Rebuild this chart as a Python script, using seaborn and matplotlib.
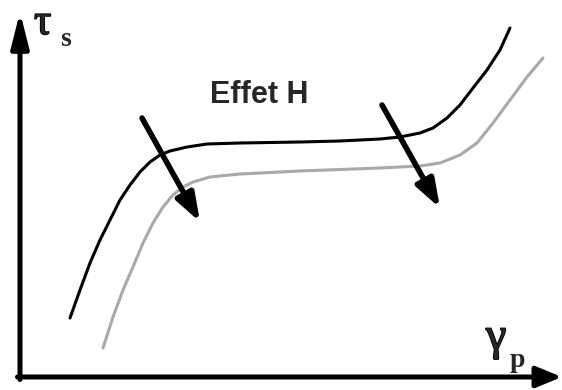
import matplotlib
matplotlib.use("Agg")
import matplotlib.pyplot as plt
import matplotlib.patheffects as pe
import seaborn as sns
import pandas as pd

sns.set_theme(style="white")
plt.rcParams["font.family"] = ["Liberation Sans", "DejaVu Sans"]
plt.rcParams["mathtext.fontset"] = "custom"
plt.rcParams["mathtext.rm"] = "Liberation Serif"
plt.rcParams["mathtext.it"] = "Liberation Serif"
plt.rcParams["mathtext.bf"] = "Liberation Serif:bold"

# Plastic shear strain (gamma_p) vs. shear stress (tau_s), schematic units
gamma_ref = [1.00, 1.20, 1.40, 1.60, 1.80, 2.00, 2.20, 2.40, 2.60, 2.80, 3.00,
             3.34, 3.74, 4.40, 5.60, 6.40, 7.20, 7.60, 8.00, 8.26, 8.54, 8.80,
             9.06, 9.34, 9.60, 9.80]
tau_ref = [1.18, 1.74, 2.28, 2.74, 3.14, 3.54, 3.84, 4.10, 4.30, 4.44, 4.52,
           4.60, 4.66, 4.68, 4.70, 4.72, 4.76, 4.80, 4.88, 4.98, 5.18, 5.44,
           5.78, 6.14, 6.54, 6.98]

gamma_h = [1.66, 1.86, 2.06, 2.26, 2.46, 2.66, 2.86, 3.06, 3.26, 3.46, 3.80,
           4.40, 5.60, 7.20, 8.00, 8.40, 8.80, 9.14, 9.46, 9.80, 10.14, 10.46]
tau_h = [0.58, 1.20, 1.74, 2.20, 2.68, 3.08, 3.40, 3.64, 3.80, 3.90, 4.00,
         4.06, 4.12, 4.18, 4.22, 4.28, 4.44, 4.68, 5.08, 5.54, 6.00, 6.38]

# Shift arrows (start -> end) showing the H effect
arrow_start_gamma = [2.44, 7.24]
arrow_start_tau = [5.18, 5.44]
arrow_end_gamma = [3.60, 8.40]
arrow_end_tau = [3.10, 3.38]

effect_label = "Effet H"

ref = pd.DataFrame({"gamma_p": gamma_ref, "tau_s": tau_ref})
hyd = pd.DataFrame({"gamma_p": gamma_h, "tau_s": tau_h})

fig = plt.figure(figsize=(5.62, 3.90), dpi=100)
ax = fig.add_axes([0, 0, 1, 1])

sns.lineplot(data=ref, x="gamma_p", y="tau_s", ax=ax, color="black",
             linewidth=2.2, sort=False, solid_joinstyle="round")
sns.lineplot(data=hyd, x="gamma_p", y="tau_s", ax=ax, color="#a9a9a9",
             linewidth=2.2, sort=False, solid_joinstyle="round")

for x0, y0, x1, y1 in zip(arrow_start_gamma, arrow_start_tau,
                          arrow_end_gamma, arrow_end_tau):
    ax.annotate("", xy=(x1, y1), xytext=(x0, y0),
                arrowprops=dict(arrowstyle="-|>,head_length=1.2,head_width=0.42",
                                mutation_scale=14, lw=4.0, color="black",
                                shrinkA=0, shrinkB=0))

ax.set_xlim(-0.4, 10.84)
ax.set_ylim(-0.26, 7.54)

# Coordinate axes drawn as arrows
ax.annotate("", xy=(0, 7.30), xytext=(0, -0.05),
            arrowprops=dict(arrowstyle="-|>,head_length=1.5,head_width=0.38",
                            mutation_scale=14, lw=3.6, color="black",
                            shrinkA=0, shrinkB=0))
ax.annotate("", xy=(10.84, 0), xytext=(-0.05, 0),
            arrowprops=dict(arrowstyle="-|>,head_length=1.1,head_width=0.45",
                            mutation_scale=14, lw=3.6, color="black",
                            shrinkA=0, shrinkB=0))

serif = ["Liberation Serif", "DejaVu Serif"]
heavy = [pe.withStroke(linewidth=1.2, foreground="black")]
ax.text(0.28, 6.86, r"$\tau$", fontsize=31,
        ha="left", va="baseline", path_effects=heavy)
ax.text(0.80, 6.62, "s", fontsize=20, fontweight="bold", family=serif,
        ha="left", va="baseline")
ax.text(9.32, 0.55, r"$\gamma$", fontsize=33,
        ha="left", va="baseline", path_effects=heavy)
ax.text(9.80, 0.20, "p", fontsize=20, fontweight="bold", family=serif,
        ha="left", va="baseline")

ax.text(3.80, 5.48, effect_label, fontsize=22, fontweight="bold",
        ha="left", va="baseline")

ax.set_xlabel("")
ax.set_ylabel("")
ax.axis("off")
if ax.get_legend():
    ax.get_legend().remove()

fig.savefig("out.png", dpi=100)
